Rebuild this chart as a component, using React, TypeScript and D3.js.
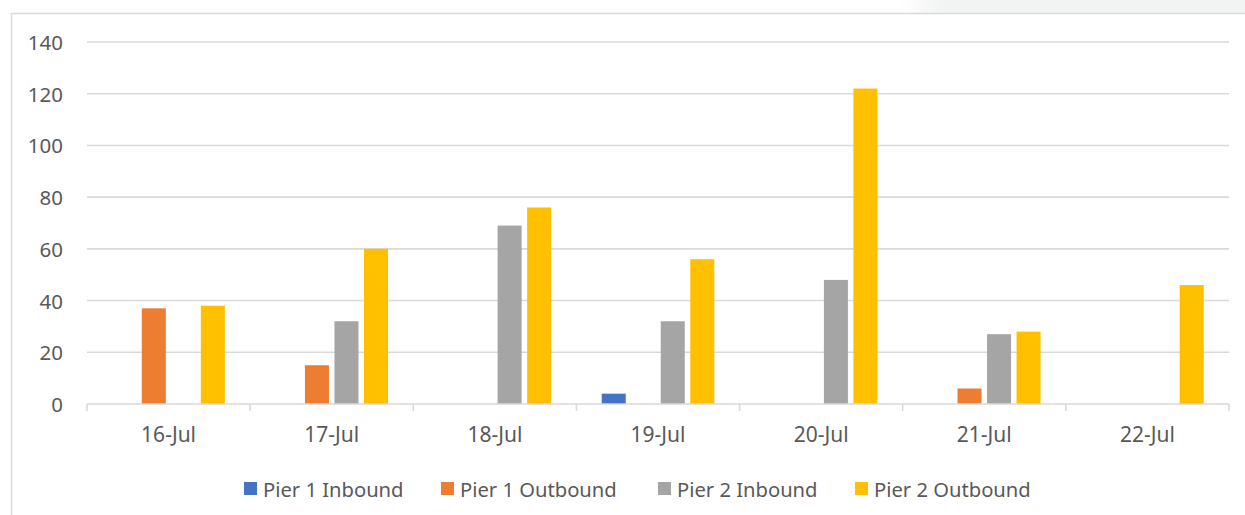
import React from "react";
import * as d3 from "d3";

const categories = ["16-Jul", "17-Jul", "18-Jul", "19-Jul", "20-Jul", "21-Jul", "22-Jul"];
const seriesNames = ["Pier 1 Inbound", "Pier 1 Outbound", "Pier 2 Inbound", "Pier 2 Outbound"];
const pier1Inbound = [0, 0, 0, 4, 0, 0, 0];
const pier1Outbound = [37, 15, 0, 0, 0, 6, 0];
const pier2Inbound = [0, 32, 69, 32, 48, 27, 0];
const pier2Outbound = [38, 60, 76, 56, 122, 28, 46];
const yTicks = [0, 20, 40, 60, 80, 100, 120, 140];
const colors = ["#4472c4", "#ed7d31", "#a5a5a5", "#ffc000"];

const W = 1245;
const H = 515;
const FONT = "'Noto Sans', 'Open Sans', sans-serif";

export default function App() {
  const values = [pier1Inbound, pier1Outbound, pier2Inbound, pier2Outbound];
  const left = 87;
  const right = 1229;
  const top = 42;
  const bottom = 404;

  const y = d3.scaleLinear().domain([0, 140]).range([bottom, top]);
  const x0 = d3.scaleBand<string>().domain(categories).range([left, right]).paddingInner(0).paddingOuter(0);
  const groupW = x0.bandwidth() * 0.69;
  const x1 = d3.scaleBand<string>().domain(seriesNames).range([0, groupW]).paddingInner(0.186).paddingOuter(0);
  const groupOffset = (x0.bandwidth() - groupW) / 2;

  const legendX = [244, 441, 658, 855];
  const grid = "#d9d9d9";
  const textColor = "#595959";

  return (
    <svg width={W} height={H} style={{ position: "absolute", left: 0, top: 0, display: "block" }}>
      <defs>
        <linearGradient id="band" x1="0" x2="1" y1="0" y2="0">
          <stop offset="0" stopColor="#ffffff" />
          <stop offset="0.12" stopColor="#f2f3f3" />
          <stop offset="1" stopColor="#f2f3f3" />
        </linearGradient>
      </defs>
      <rect x={0} y={0} width={W} height={H} fill="#ffffff" />
      <rect x={900} y={0} width={W - 900} height={13} fill="url(#band)" />
      <line x1={11} x2={W} y1={13.5} y2={13.5} stroke={grid} strokeWidth={1.5} />
      <line x1={11.5} x2={11.5} y1={13} y2={H} stroke={grid} strokeWidth={1.5} />

      {yTicks.filter((t) => t > 0).map((t) => (
        <line key={t} x1={left} x2={right} y1={y(t)} y2={y(t)} stroke={grid} strokeWidth={1.6} />
      ))}
      {yTicks.map((t) => (
        <text key={"l" + t} x={63} y={y(t)} textAnchor="end" dominantBaseline="central"
          fontFamily={FONT} fontSize={20.5} fill={textColor}>{t}</text>
      ))}

      {categories.map((c, i) => (
        <g key={c} transform={`translate(${x0(c)! + groupOffset},0)`}>
          {seriesNames.map((s, j) => {
            const v = values[j][i];
            if (!v) return null;
            return (
              <rect key={s} x={x1(s)} y={y(v)} width={x1.bandwidth()} height={y(0) - y(v)} fill={colors[j]} />
            );
          })}
        </g>
      ))}

      <line x1={left} x2={right} y1={bottom} y2={bottom} stroke={grid} strokeWidth={1.6} />
      {[...categories.map((c) => x0(c)!), right].map((xv, i) => (
        <line key={"t" + i} x1={xv} x2={xv} y1={bottom} y2={bottom + 7} stroke={grid} strokeWidth={1.6} />
      ))}
      {categories.map((c) => (
        <text key={"x" + c} x={x0(c)! + x0.bandwidth() / 2} y={434} textAnchor="middle" dominantBaseline="central"
          fontFamily={FONT} fontSize={21} fill={textColor}>{c}</text>
      ))}

      {seriesNames.map((s, j) => (
        <g key={"lg" + s}>
          <rect x={legendX[j]} y={482} width={13} height={13} fill={colors[j]} />
          <text x={legendX[j] + 19} y={488.5} dominantBaseline="central" fontFamily={FONT} fontSize={20.2} fill={textColor}>{s}</text>
        </g>
      ))}
    </svg>
  );
}
